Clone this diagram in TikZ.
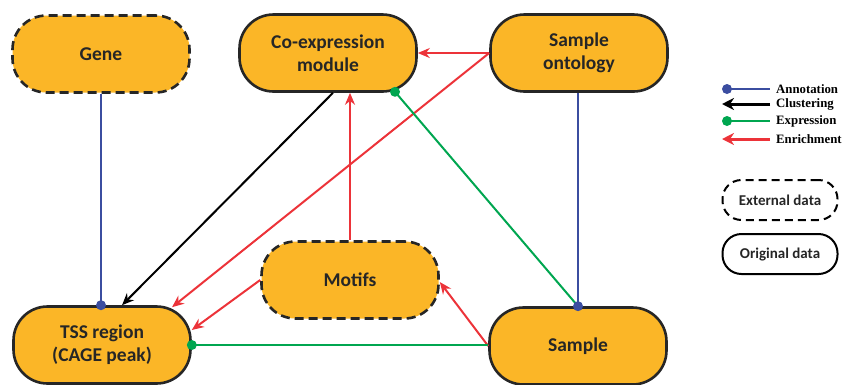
\documentclass[tikz,border=0pt]{standalone}
\usepackage{fontspec}
\setmainfont{Carlito}
\newfontfamily\legfont{Liberation Serif}
\usetikzlibrary{arrows.meta,calc}
\definecolor{boxfill}{HTML}{FBB627}
\definecolor{enrred}{HTML}{EC3339}
\definecolor{annblue}{HTML}{3B4DA0}
\definecolor{expgreen}{HTML}{00A650}
\begin{document}
\begin{tikzpicture}[x=1pt,y=-1pt,
  databox/.style={rectangle,rounded corners=34pt,minimum width=177pt,minimum height=77pt,
    fill=boxfill,draw=black!85,line width=2.6pt,font=\bfseries\fontsize{19.5}{23}\selectfont,align=center,text=black!85},
  extbox/.style={databox,dash pattern=on 9pt off 5pt},
  legbox/.style={rectangle,rounded corners=19pt,minimum width=115pt,minimum height=40pt,
    draw=black,line width=2pt,font=\bfseries\fontsize{15}{18}\selectfont,text=black!85},
  leglabel/.style={anchor=west,font=\legfont\bfseries\fontsize{12.8}{14}\selectfont,inner sep=0pt},
  conn/.style={line width=2pt},
  enrich/.style={conn,enrred,-{Stealth[length=12pt,width=10pt]}},
  clust/.style={conn,black,-{Stealth[length=12pt,width=10pt]}},
  annot/.style={conn,annblue},
  expr/.style={conn,expgreen},
  bluedot/.style={circle,fill=annblue,inner sep=0pt,minimum size=10pt},
  greendot/.style={circle,fill=expgreen,inner sep=0pt,minimum size=10pt}
]
\useasboundingbox (0,0) rectangle (843,384);

\node[extbox] (gene) at (101,54) {Gene};
\node[databox] (cem) at (328,53) {Co-expression\\module};
\node[databox] (so) at (579,53) {Sample\\ontology};
\node[extbox] (motifs) at (350,280) {Motifs};
\node[databox] (tss) at (102,345) {TSS region\\(CAGE peak)};
\node[databox] (sample) at (578,346) {Sample};

% connectors
\coordinate (tssann) at (gene.south |- tss.north);
\draw[annot] (gene.south) -- (tssann);
\node[bluedot] (d1) at (tssann) {};

\draw[clust] ([xshift=5pt]cem.south) -- ([xshift=20pt]tss.north);
\draw[enrich] (so.west) -- (cem.east);
\draw[enrich] (so.west) -- ([xshift=70pt,yshift=-2pt]tss.north);
\draw[enrich] (motifs.west) -- ([yshift=15pt]tss.east);
\draw[enrich] (motifs.north) -- (motifs.north |- cem.south);
\draw[enrich] (sample.west) -- ([yshift=-2pt]motifs.east);

\coordinate (cemexp) at ([xshift=67pt,yshift=1pt]cem.south);
\draw[expr] (cemexp) -- (sample.north);
\node[greendot] (d2) at (cemexp) {};

\draw[annot] (sample.north) -- (sample.north |- so.south);
\node[bluedot] (d3) at (sample.north) {};

\draw[expr] (tss.east) -- (tss.east -| sample.west);
\node[greendot] (d4) at (tss.east) {};

% legend
\coordinate (la1) at (727,89);
\coordinate (lb1) at (770,89);
\draw[annot] (la1) -- (lb1);
\node[bluedot,minimum size=10pt] (ld1) at (la1) {};
\node[leglabel] (lt1) at (776,89) {Annotation};

\coordinate (la2) at (722,104);
\coordinate (lb2) at (770,104);
\draw[black,line width=3pt,-{Stealth[length=12pt,width=12pt]}] (lb2) -- (la2);
\node[leglabel] (lt2) at (776,104) {Clustering};

\coordinate (la3) at (727,121);
\coordinate (lb3) at (770,121);
\draw[expr] (la3) -- (lb3);
\node[greendot,minimum size=10pt] (ld3) at (la3) {};
\node[leglabel] (lt3) at (776,121) {Expression};

\coordinate (la4) at (722,139);
\coordinate (lb4) at (770,139);
\draw[enrred,line width=3pt,-{Stealth[length=12pt,width=12pt]}] (lb4) -- (la4);
\node[leglabel] (lt4) at (776,139) {Enrichment};

\node[legbox,dash pattern=on 8pt off 5pt] (lext) at (780,200) {External data};
\node[legbox] (lorig) at (780,254) {Original data};
\end{tikzpicture}
\end{document}
